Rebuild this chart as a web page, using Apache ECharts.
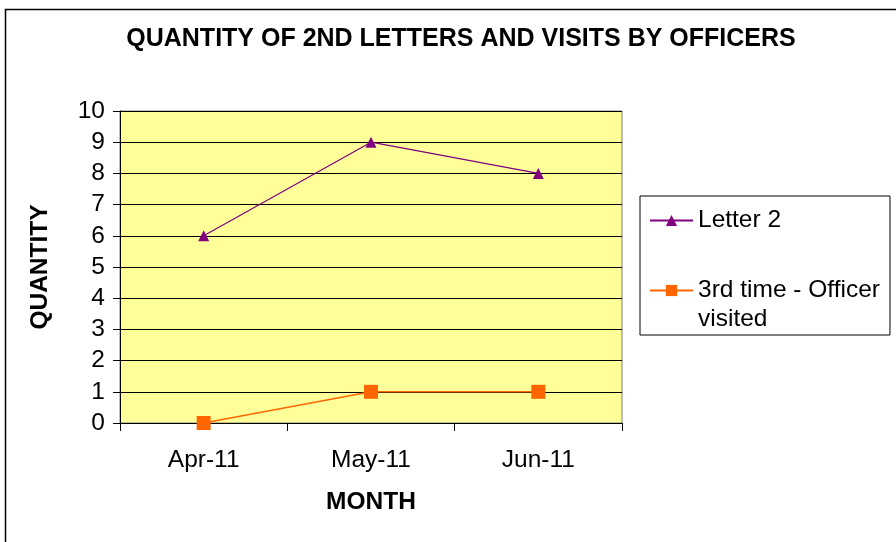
<!DOCTYPE html>
<html>
<head>
<meta charset="utf-8">
<script src="https://cdn.jsdelivr.net/npm/echarts@6/dist/echarts.min.js"></script>
<style>
html,body{margin:0;padding:0;background:#fff;}
#main{width:896px;height:542px;}
</style>
</head>
<body>
<div id="main"></div>
<script>
const months = ['Apr-11', 'May-11', 'Jun-11'];
const letter2 = [6, 9, 8];
const officerVisited = [0, 1, 1];
const yTicks = [0, 1, 2, 3, 4, 5, 6, 7, 8, 9, 10];
const seriesNames = ['Letter 2', '3rd time - Officer visited'];

const FONT = '"Liberation Sans", Arial, sans-serif';
const chart = echarts.init(document.getElementById('main'), null, {renderer: 'canvas'});
chart.setOption({
  animation: false,
  backgroundColor: '#ffffff',
  title: {
    text: 'QUANTITY OF 2ND LETTERS AND VISITS BY OFFICERS',
    left: 456, top: 22, textAlign: 'center',
    textStyle: {fontFamily: FONT, fontWeight: 'bold', fontSize: 25, color: '#000'}
  },
  graphic: [{
    type: 'rect', left: 3, top: 7, z: -1,
    shape: {width: 1000, height: 1000},
    style: {fill: 'none', stroke: '#000', lineWidth: 1.5}
  }],
  legend: {
    orient: 'vertical',
    left: 640, top: 196,
    padding: [10, 10, 1, 9],
    backgroundColor: '#fff',
    borderColor: '#000', borderWidth: 1,
    itemWidth: 43, itemHeight: 14, itemGap: 12,
    textStyle: {fontFamily: FONT, fontSize: 24.5, color: '#000', lineHeight: 29},
    formatter: function (n) { return n === seriesNames[1] ? '\n3rd time - Officer\nvisited' : n; },
    data: seriesNames
  },
  grid: {left: 120, top: 111, right: 274, bottom: 119, show: true, backgroundColor: '#FFFF99', borderColor: '#808080', borderWidth: 1},
  xAxis: {
    type: 'category', data: months, boundaryGap: true,
    name: 'MONTH', nameLocation: 'middle', nameGap: 67,
    nameTextStyle: {fontFamily: FONT, fontWeight: 'bold', fontSize: 24.5, color: '#000'},
    axisLine: {lineStyle: {color: '#000', width: 1}},
    axisTick: {show: true, length: 8, alignWithLabel: false, lineStyle: {color: '#000'}},
    axisLabel: {fontFamily: FONT, fontSize: 24.5, color: '#000', margin: 25},
    splitLine: {show: false}
  },
  yAxis: {
    type: 'value', min: 0, max: 10, interval: 1,
    name: 'QUANTITY', nameLocation: 'middle', nameGap: 67,
    nameTextStyle: {fontFamily: FONT, fontWeight: 'bold', fontSize: 24.5, color: '#000'},
    axisLine: {show: true, lineStyle: {color: '#000', width: 1}},
    axisTick: {show: true, length: 7, lineStyle: {color: '#000'}},
    axisLabel: {fontFamily: FONT, fontSize: 24.5, color: '#000', margin: 15,
      formatter: function (v) { return yTicks.indexOf(v) >= 0 ? String(v) : ''; }},
    splitLine: {show: true, lineStyle: {color: '#000', width: 1}}
  },
  series: [{
    name: seriesNames[0], type: 'line', data: letter2,
    symbol: 'triangle', symbolSize: 11,
    itemStyle: {color: '#800080'},
    lineStyle: {color: '#800080', width: 1.2}
  }, {
    name: seriesNames[1], type: 'line', data: officerVisited,
    symbol: 'rect', symbolSize: 14,
    itemStyle: {color: '#FF6600'},
    lineStyle: {color: '#FF6600', width: 1.5}
  }]
});
</script>
</body>
</html>
